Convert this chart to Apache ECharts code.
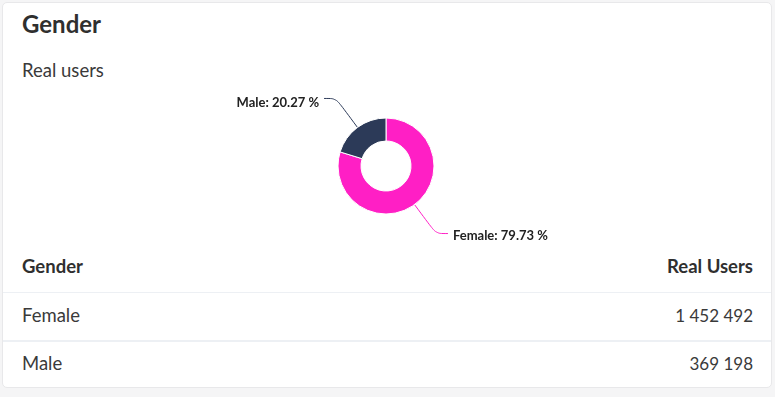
<!DOCTYPE html>
<html>
<head>
<meta charset="utf-8">
<script src="https://cdn.jsdelivr.net/npm/echarts@6/dist/echarts.min.js"></script>
<style>
  html, body { margin: 0; padding: 0; width: 775px; height: 397px; background: #f5f5f6; overflow: hidden; font-family: Lato, "Noto Sans", sans-serif; color: #333; }
  #card { position: absolute; left: 2px; top: 2px; width: 768px; height: 384px; background: #fff; border: 1px solid #e8e8ea; border-radius: 5px; }
  #title { position: absolute; left: 19px; top: 6px; font-size: 24px; font-weight: 700; color: #2f2f2f; }
  #sub { position: absolute; left: 19px; top: 56px; font-size: 18.5px; color: #3a3a3a; }
  #chart { position: absolute; left: 0; top: 0; width: 775px; height: 397px; }
  .row { position: absolute; left: 0; width: 768px; font-size: 18.5px; color: #3a3a3a; }
  .row .l { position: absolute; left: 19px; }
  .row .r { position: absolute; right: 18px; font-size: 17px; top: 1px; }
  .hdr { font-weight: 700; color: #2f2f2f; }
  .hdr .r { font-size: 18.5px; top: 0; }
  .line { position: absolute; left: 0; width: 768px; background: #edf0f4; }
</style>
</head>
<body>
<div id="card">
  <div id="title"></div>
  <div id="sub"></div>
  <div id="table"></div>
</div>
<div id="chart"></div>
<script>
const chartTitle = "Gender";
const subTitle = "Real users";
const headers = ["Gender", "Real Users"];
const categories = ["Female", "Male"];
const values = [1452492, 369198];
const colors = ["#ff1fc5", "#2c3a58"];

document.getElementById('title').textContent = chartTitle;
document.getElementById('sub').textContent = subTitle;

function fmt(n) {
  return String(n).replace(/\B(?=(\d{3})+(?!\d))/g, ' ');
}

const table = document.getElementById('table');
function addRow(top, left, right, cls) {
  const d = document.createElement('div');
  d.className = 'row ' + (cls || '');
  d.style.top = top + 'px';
  const a = document.createElement('span'); a.className = 'l'; a.textContent = left;
  const b = document.createElement('span'); b.className = 'r'; b.textContent = right;
  d.appendChild(a); d.appendChild(b);
  table.appendChild(d);
}
function addLine(top, h) {
  const d = document.createElement('div');
  d.className = 'line';
  d.style.top = top + 'px';
  d.style.height = h + 'px';
  table.appendChild(d);
}
addRow(252, headers[0], headers[1], 'hdr');
addLine(289, 1);
const rowTops = [301, 349];
categories.forEach((c, i) => addRow(rowTops[i], c, fmt(values[i])));
addLine(337, 2);

const chart = echarts.init(document.getElementById('chart'), null, { renderer: 'canvas' });
chart.setOption({
  animation: false,
  series: [{
    type: 'pie',
    center: [386, 166],
    radius: [25, 48],
    startAngle: 90,
    clockwise: true,
    data: categories.map((c, i) => ({ name: c, value: values[i], itemStyle: { color: colors[i] } })),
    itemStyle: { borderColor: '#fff', borderWidth: 1 },
    label: {
      show: true,
      formatter: '{b}: {d} %',
      fontFamily: 'Lato',
      fontSize: 13,
      fontWeight: 'bold',
      color: '#222'
    },
    labelLine: { show: true, length: 36, length2: 12, smooth: 0.3, lineStyle: { width: 1 } },
    labelLayout: function (p) {
      return p.dataIndex === 1 ? { dy: 4 } : { dy: 2 };
    },
    emphasis: { disabled: true }
  }]
});
</script>
</body>
</html>
